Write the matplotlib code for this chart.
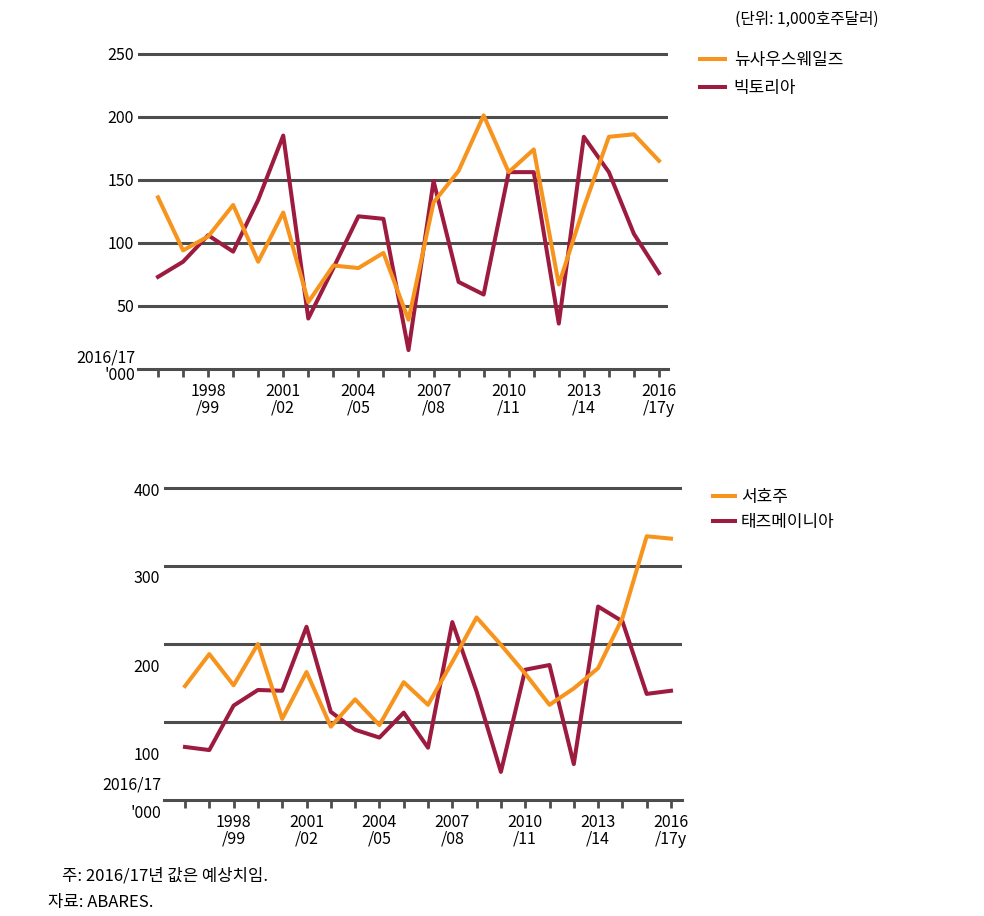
import matplotlib
matplotlib.use('Agg')
import matplotlib.pyplot as plt

years = list(range(1996, 2017))
tick_labels = ['1998\n/99', '2001\n/02', '2004\n/05', '2007\n/08', '2010\n/11', '2013\n/14', '2016\n/17y']

nsw = [136, 94, 105, 130, 85, 124, 53, 82, 80, 92, 39, 132, 157, 201, 156, 174, 67, 128, 184, 186, 165]
vic = [73, 85, 106, 93, 134, 185, 40, 80, 121, 119, 15, 149, 69, 59, 156, 156, 36, 184, 156, 107, 76]

wa = [146, 187, 147, 200, 104, 164, 94, 129, 96, 151, 122, 177, 234, 199, 162, 122, 143, 169, 233, 338, 335]
tas = [68, 64, 121, 141, 140, 222, 113, 90, 80, 112, 67, 228, 139, 36, 167, 173, 46, 248, 229, 136, 140]

top_grid = [50, 100, 150, 200, 250]
bot_grid = [100, 200, 300, 400]
bot_label_pos = [60, 173, 286, 398]   # the source prints these labels off the grid
bot_labels = ['100', '200', '300', '400']

ORANGE = '#F7941D'
MAROON = '#9E1B40'
GRID = '#4d4d4d'
NUM = ['Liberation Sans Narrow', 'Noto Sans CJK KR']
KR = ['Noto Sans CJK KR', 'DejaVu Sans']

W, H = 984, 916
fig = plt.figure(figsize=(W / 100, H / 100), dpi=100)


def make_axes(left, right, y0, ytop):
    return fig.add_axes([left / W, 1 - y0 / H, (right - left) / W, (y0 - ytop) / H])


def style(ax, px, first, last, grid, ymax):
    x = list(range(len(years)))
    step = (last - first) / 20.0
    ax.set_xlim(-(first - px[0]) / step, 20 + (px[1] - last) / step)
    ax.set_ylim(0, ymax)
    for g in grid:
        ax.axhline(g, color=GRID, lw=2.2, zorder=1)
    for s in ['top', 'right', 'left']:
        ax.spines[s].set_visible(False)
    ax.spines['bottom'].set_color(GRID)
    ax.spines['bottom'].set_linewidth(2.2)
    ax.set_xticks(x)
    labels = [''] * len(x)
    for i, lab in zip(range(2, 21, 3), tick_labels):
        labels[i] = lab
    ax.set_xticklabels(labels, family=NUM, fontsize=11.5, linespacing=1.0)
    ax.tick_params(axis='x', length=6, width=2, color=GRID, pad=4)
    ax.tick_params(axis='y', length=0, pad=3)
    return x


# top panel
ax1 = make_axes(138, 668, 369, 51)
x = style(ax1, (138, 668), 158, 659, top_grid, 252)
ax1.plot(x, nsw, color=ORANGE, lw=2.9, label='뉴사우스웨일즈', zorder=3)
ax1.plot(x, vic, color=MAROON, lw=2.9, label='빅토리아', zorder=2)
ax1.set_yticks(top_grid)
ax1.set_yticklabels([str(v) for v in top_grid], family=NUM, fontsize=11.5)
ax1.text(-0.005, 9, '2016/17', transform=ax1.get_yaxis_transform(), ha='right', va='center',
         family=NUM, fontsize=11.5)
ax1.text(-0.005, -5, "'000", transform=ax1.get_yaxis_transform(), ha='right', va='center',
         family=NUM, fontsize=11.5, clip_on=False)
ax1.legend(loc='upper left', bbox_to_anchor=(693 / W, 1 - 44 / H), bbox_transform=fig.transFigure,
           frameon=False, prop={'family': KR, 'size': 12.2}, handlelength=1.5, handletextpad=0.5,
           labelspacing=0.6, borderaxespad=0)
fig.text(735 / W, 1 - 19 / H, '(단위: 1,000호주달러)', family=KR, fontsize=11.3, va='center')

# bottom panel
ax2 = make_axes(164, 682, 800, 484)
x = style(ax2, (164, 682), 185, 671, bot_grid, 405)
ax2.plot(x, wa, color=ORANGE, lw=2.9, label='서호주', zorder=3)
ax2.plot(x, tas, color=MAROON, lw=2.9, label='태즈메이니아', zorder=2)
ax2.set_yticks(bot_label_pos)
ax2.set_yticklabels(bot_labels, family=NUM, fontsize=11.5)
ax2.text(-0.005, 19, '2016/17', transform=ax2.get_yaxis_transform(), ha='right', va='center',
         family=NUM, fontsize=11.5)
ax2.text(-0.005, -17, "'000", transform=ax2.get_yaxis_transform(), ha='right', va='center',
         family=NUM, fontsize=11.5, clip_on=False)
ax2.legend(loc='upper left', bbox_to_anchor=(706 / W, 1 - 481 / H), bbox_transform=fig.transFigure,
           frameon=False, prop={'family': KR, 'size': 12.2}, handlelength=1.3, handletextpad=0.35,
           labelspacing=0.45, borderaxespad=0)

fig.text(62 / W, 1 - 876 / H, '주: 2016/17년 값은 예상치임.', family=KR, fontsize=12, va='center')
fig.text(48 / W, 1 - 902 / H, '자료: ABARES.', family=KR, fontsize=12, va='center')

fig.savefig('out.png', dpi=100)
